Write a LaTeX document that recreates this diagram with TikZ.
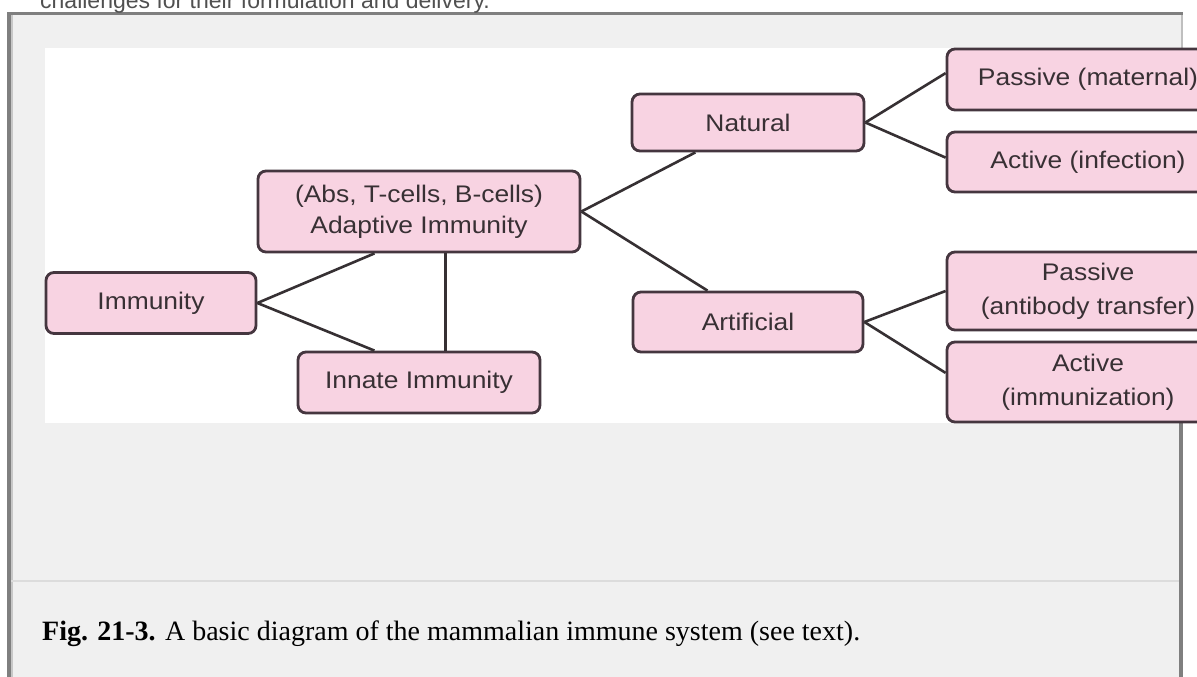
\documentclass[tikz,border=0pt]{standalone}
\usepackage{fontspec}
\setmainfont{Liberation Serif}
\newfontfamily\diagfont[FakeStretch=1.1]{Liberation Sans}
\newfontfamily\topfont{Liberation Sans}
\usetikzlibrary{calc}
\definecolor{pinkfill}{HTML}{F8D3E2}
\definecolor{boxline}{HTML}{45363F}
\definecolor{boxtext}{HTML}{383034}
\definecolor{linkcol}{HTML}{363033}
\definecolor{framebg}{HTML}{F0F0F0}
\definecolor{framecol}{HTML}{7F7F7F}
\definecolor{sepcol}{HTML}{DCDCDC}
\definecolor{toptext}{HTML}{505050}
\tikzset{
  box/.style={draw=boxline, fill=pinkfill, rounded corners=8pt, line width=2.8pt,
    inner sep=0pt, text=boxtext, align=center,
    font=\diagfont\fontsize{24}{31}\selectfont},
  link/.style={draw=linkcol, line width=2.6pt}
}
\begin{document}
\begin{tikzpicture}[x=1pt,y=-1pt]
\useasboundingbox (0,0) rectangle (1197,677);
% page background
\fill[white] (0,0) rectangle (1197,677);
% frame
\fill[framebg] (7,12) rectangle (1183,677);
\fill[framecol] (7,12) rectangle (1183,15);
\fill[framecol] (7,12) rectangle (11,677);
\fill[black!22] (11,15) rectangle (13,677);
\fill[framecol] (1179,423) rectangle (1183,677);
\fill[black!25] (1181,15) rectangle (1183,48);
\fill[sepcol] (11,580) rectangle (1179,582);
% top text (cut off)
\node[anchor=base west, inner sep=0pt, text=toptext, font=\topfont\fontsize{23}{27}\selectfont] (toptxt) at (40,9) {challenges for their formulation and delivery.};
% image area
\fill[white] (45,48) rectangle (1197,423);
% nodes
\node[box, minimum width=210pt, minimum height=61pt] (imm) at (151,303) {Immunity};
\node[box, minimum width=322pt, minimum height=81pt] (adapt) at (419,211.5) {(Abs, T-cells, B-cells)\\Adaptive Immunity};
\node[box, minimum width=242pt, minimum height=61pt] (innate) at (419,382.5) {Innate Immunity};
\node[box, minimum width=232pt, minimum height=57pt] (natural) at (748,122.5) {Natural};
\node[box, minimum width=230pt, minimum height=60pt] (artif) at (748,322) {Artificial};
\node[box, minimum width=282pt, minimum height=61pt] (pmat) at (1088,79.5) {Passive (maternal)};
\node[box, minimum width=282pt, minimum height=60pt] (ainf) at (1088,162) {Active (infection)};
\node[box, minimum width=282pt, minimum height=78pt, font=\diagfont\fontsize{24}{34}\selectfont] (pab) at (1088,291) {Passive\\(antibody transfer)};
\node[box, minimum width=282pt, minimum height=80pt, font=\diagfont\fontsize{24}{34}\selectfont] (aimm) at (1088,382) {Active\\(immunization)};
% connectors
\coordinate (adb1) at ($(adapt.south west)!0.363!(adapt.south east)$);
\coordinate (inn1) at ($(innate.north west)!0.318!(innate.north east)$);
\coordinate (adb2) at ($(adapt.south west)!0.581!(adapt.south east)$);
\path[link] (imm.east) -- (adb1);
\path[link] (imm.east) -- (inn1);
\path[link] (adb2) -- (adb2 |- innate.north);
\path[link] (adapt.east) -- ($(natural.south west)!0.276!(natural.south east)$);
\path[link] (adapt.east) -- ($(artif.north west)!0.326!(artif.north east)$);
\path[link] (natural.east) -- ($(pmat.north west)!0.4!(pmat.south west)$);
\path[link] (natural.east) -- ($(ainf.north west)!0.43!(ainf.south west)$);
\path[link] (artif.east) -- ($(pab.north west)!0.5!(pab.south west)$);
\path[link] (artif.east) -- ($(aimm.north west)!0.39!(aimm.south west)$);
% caption
\node[anchor=base west, inner sep=0pt, font=\fontsize{28}{32}\selectfont] (caption) at (42,640) {\textbf{Fig. 21-3.} A basic diagram of the mammalian immune system (see text).};
\end{tikzpicture}
\end{document}
